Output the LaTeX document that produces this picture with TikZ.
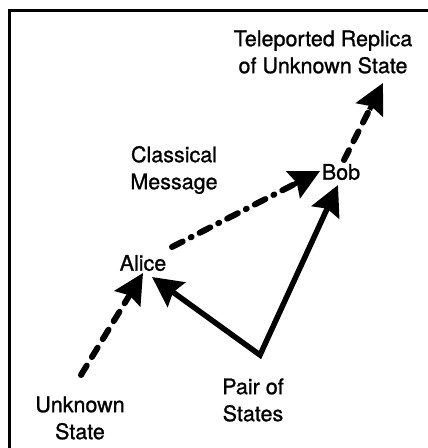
\documentclass[tikz,border=0pt]{standalone}
\usepackage{fontspec}
\setmainfont{TeX Gyre Heros}[FakeBold=1.0]
\usetikzlibrary{arrows.meta,calc}
\tikzset{
  lbl/.style={inner sep=0pt, align=center, font=\fontsize{21.5}{27}\selectfont},
  bighead/.style={-{Stealth[length=30pt,width=30pt,inset=4pt]}},
  thickline/.style={line width=5.5pt},
  dashline/.style={line width=6pt, line cap=round, dash pattern=on 11pt off 10pt, shorten >=26pt},
  dashdotline/.style={line width=6pt, line cap=round, dash pattern=on 12pt off 9pt on 1pt off 9pt, shorten >=26pt},
  headonly/.style={line width=5pt, bighead},
  frameline/.style={line width=3pt}
}
\begin{document}
\begin{tikzpicture}[x=1pt,y=-1pt]
\useasboundingbox (0,0) rectangle (428,448);
% frame
\coordinate (fbl) at (9,448);
\coordinate (ftl) at (9,10);
\coordinate (ftr) at (428,10);
\draw[frameline] (fbl) -- (ftl) -- (ftr);
% labels
\node[lbl] (tele) at (323,52) {Teleported Replica\\of Unknown State};
\node[lbl] (classical) at (174,170) {Classical\\Message};
\node[lbl] (bob) at (341,172) {Bob};
\node[lbl] (alice) at (143,263) {Alice};
\node[lbl] (unknown) at (80,418) {Unknown\\State};
\node[lbl] (pair) at (253,400) {Pair of\\States};
% arrow end points
\coordinate (ustart) at (81,375);
\coordinate (atipL) at (143,273);
\coordinate (atipR) at (152,277);
\coordinate (vtx) at (260,355);
\coordinate (btip) at (338,185);
\coordinate (astart) at (172,247);
\coordinate (btipL) at (320,171);
\coordinate (bstart) at (344,160);
\coordinate (ttip) at (383,83);
% solid V connector
\draw[thickline, line join=miter, {Stealth[length=30pt,width=30pt,inset=4pt]}-{Stealth[length=30pt,width=30pt,inset=4pt]}] (atipR) -- (vtx) -- (btip);
% dashed connectors (line, then solid head)
\draw[dashline] (ustart) -- (atipL);
\draw[headonly] ($(atipL)!30pt!(ustart)$) -- (atipL);
\draw[dashdotline] (astart) -- (btipL);
\draw[headonly] ($(btipL)!30pt!(astart)$) -- (btipL);
\draw[dashline] (bstart) -- (ttip);
\draw[headonly] ($(ttip)!30pt!(bstart)$) -- (ttip);
\end{tikzpicture}
\end{document}
